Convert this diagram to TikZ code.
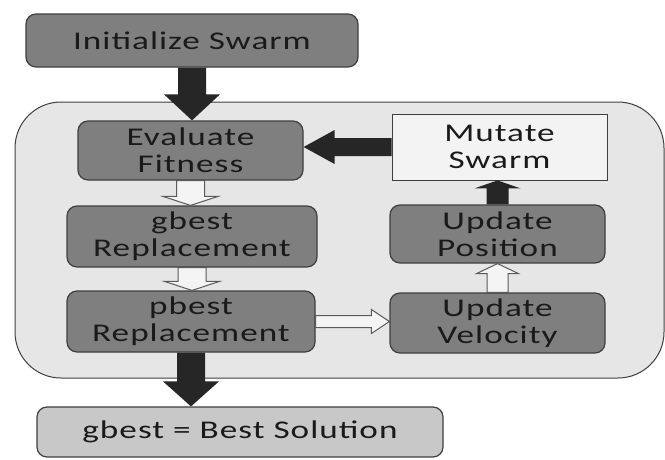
\documentclass[tikz,border=0pt]{standalone}
\usepackage{fontspec}
\setmainfont[FakeStretch=1.38, LetterSpace=4]{Carlito}
\usetikzlibrary{calc}

\definecolor{boxgray}{HTML}{7F7F7F}
\definecolor{boxline}{HTML}{3F3F3F}
\definecolor{loopfill}{HTML}{E6E6E6}
\definecolor{mutfill}{HTML}{F3F3F3}
\definecolor{bestfill}{HTML}{C8C8C8}
\definecolor{arrblack}{HTML}{262626}
\definecolor{arrline}{HTML}{5A5A5A}
\definecolor{arrwhite}{HTML}{F4F4F4}
\definecolor{txt}{HTML}{1A1A1A}

% block arrow: style, from, to, shaft half width, head half width, head length
\newcommand{\blockarr}[6]{%
  \path[#1] let \p1=(#2), \p2=(#3), \n1={atan2(\y2-\y1,\x2-\x1)} in
    ($(\p1)+({\n1+90}:#4)$) -- ($(\p2)+({\n1+180}:#6)+({\n1+90}:#4)$)
    -- ($(\p2)+({\n1+180}:#6)+({\n1+90}:#5)$) -- (\p2)
    -- ($(\p2)+({\n1+180}:#6)+({\n1-90}:#5)$) -- ($(\p2)+({\n1+180}:#6)+({\n1-90}:#4)$)
    -- ($(\p1)+({\n1-90}:#4)$) -- cycle;}

\begin{document}
\begin{tikzpicture}[x=1pt, y=-1pt,
    box/.style={draw=boxline, line width=1.2pt, rounded corners=10pt, fill=boxgray, text=txt,
      align=center, font=\fontsize{25.5}{27}\selectfont, inner sep=0pt},
    mutbox/.style={box, fill=mutfill, rounded corners=0pt, line width=0.8pt},
    bestbox/.style={box, fill=bestfill},
    loopbox/.style={draw=boxline, line width=1pt, fill=loopfill, rounded corners=46pt},
    blackarr/.style={fill=arrblack},
    whitearr/.style={fill=arrwhite, draw=arrline, line width=1pt, line join=miter},
]
\useasboundingbox (0,0) rectangle (665,459);

% Loop body
\draw[loopbox] (15,102) rectangle (664,378);

% Start
\node[box, minimum width=332pt, minimum height=53pt] (init) at (192,40.5) {Initialize Swarm};

% Left column
\node[box, minimum width=225pt, minimum height=59pt] (eval) at (190.5,150.5) {Evaluate\\Fitness};
\node[box, minimum width=250pt, minimum height=61pt] (gbest) at (192,236.5) {gbest\\Replacement};
\node[box, minimum width=248pt, minimum height=61pt] (pbest) at (191,321.5) {pbest\\Replacement};

% Right column
\node[mutbox, minimum width=215pt, minimum height=66pt] (mutate) at (499.5,147) {Mutate\\Swarm};
\node[box, minimum width=215pt, minimum height=58pt] (position) at (497.5,234) {Update\\Position};
\node[box, minimum width=215pt, minimum height=60pt] (velocity) at (497.5,323) {Update\\Velocity};

% Result
\node[bestbox, minimum width=406pt, minimum height=50pt] (best) at (240,432) {gbest = Best Solution};

% Arrows
\blockarr{blackarr}{init.south}{init.south |- eval.north}{14pt}{28pt}{26pt}
\blockarr{whitearr}{eval.south}{eval.south |- gbest.north}{14pt}{27.5pt}{9pt}
\blockarr{whitearr}{gbest.south}{gbest.south |- pbest.north}{14pt}{27.5pt}{9pt}
\blockarr{whitearr}{pbest.east}{pbest.east -| velocity.west}{6pt}{12pt}{18pt}
\blockarr{whitearr}{velocity.north}{velocity.north |- position.south}{10.5pt}{21pt}{10pt}
\blockarr{blackarr}{position.north}{position.north |- mutate.south}{11pt}{23pt}{8pt}
\blockarr{blackarr}{mutate.west}{mutate.west -| eval.east}{9pt}{17pt}{31pt}
\blockarr{blackarr}{pbest.south}{pbest.south |- best.north}{14pt}{28pt}{25pt}
\end{tikzpicture}
\end{document}
